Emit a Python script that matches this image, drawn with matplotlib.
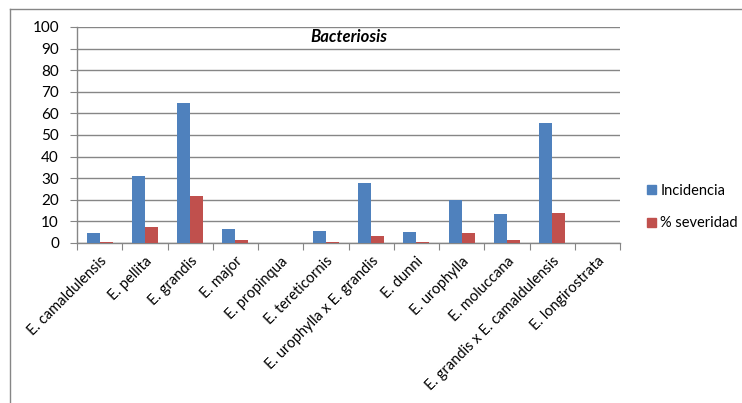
import matplotlib
matplotlib.use("Agg")
import matplotlib.pyplot as plt
from matplotlib.lines import Line2D
from matplotlib.patches import Patch
import numpy as np

plt.rcParams['font.family'] = ['Lato', 'DejaVu Sans']

especies = ["E. camaldulensis", "E. pellita", "E. grandis", "E. major", "E. propinqua",
            "E. tereticornis", "E. urophylla x E. grandis", "E. dunni", "E. urophylla",
            "E. moluccana", "E. grandis x E. camaldulensis", "E. longirostrata"]
incidencia = [4.8, 31.2, 64.8, 6.5, 0.0, 5.4, 27.7, 5.2, 19.8, 13.2, 55.4, 0.0]
severidad = [0.6, 7.4, 21.7, 1.5, 0.0, 0.6, 3.1, 0.6, 4.8, 1.2, 13.7, 0.0]
y_ticks = [0, 10, 20, 30, 40, 50, 60, 70, 80, 90, 100]

azul = "#4F81BD"
rojo = "#C0504D"
gris = "#868686"

W, H = 742, 403
fig = plt.figure(figsize=(W / 100, H / 100), dpi=100)
ax = fig.add_axes([77 / W, 1 - 243 / H, (620 - 77) / W, (243 - 27) / H])

x = np.arange(len(especies))
bw = 1 / 3.5
ax.bar(x - bw / 2, incidencia, width=bw, color=azul, label="Incidencia", zorder=3)
ax.bar(x + bw / 2, severidad, width=bw, color=rojo, label="% severidad", zorder=3)

ax.set_xlim(-0.5, len(especies) - 0.5)
ax.set_ylim(0, 100)
ax.set_yticks(y_ticks)
ax.yaxis.grid(True, color=gris, linewidth=1)
ax.set_axisbelow(True)
for s in ["top", "right"]:
    ax.spines[s].set_visible(False)
for s in ["left", "bottom"]:
    ax.spines[s].set_color(gris)
    ax.spines[s].set_linewidth(1)

ax.tick_params(axis="y", length=5, color=gris, labelsize=11, pad=8, labelcolor="black")
ax.set_xticks(np.arange(len(especies) + 1) - 0.5, minor=False)
ax.set_xticklabels([])
ax.tick_params(axis="x", length=5, color=gris)
ax.set_xticks(x, minor=True)
ax.set_xticklabels(especies, minor=True, rotation=45, ha="right", va="top",
                   rotation_mode="anchor", fontsize=10.5)
ax.tick_params(axis="x", which="minor", length=0, pad=8)

ax.text(0.5, 0.955, "Bacteriosis", transform=ax.transAxes, ha="center", va="center",
        fontsize=12, fontweight="bold", fontstyle="italic")

handles = [Patch(color=azul), Patch(color=rojo)]
fig.legend(handles, ["Incidencia", "% severidad"], loc="center left",
           bbox_to_anchor=(634 / W, 1 - 207 / H), frameon=False, fontsize=10.5,
           handlelength=0.6, handleheight=0.6, handletextpad=0.3, labelspacing=1.3)

# outer frame (left and top edges)
fig.add_artist(Line2D([10 / W, 10 / W], [0, 1 - 9 / H], transform=fig.transFigure,
                      color=gris, linewidth=1))
fig.add_artist(Line2D([10 / W, 1], [1 - 9 / H, 1 - 9 / H], transform=fig.transFigure,
                      color=gris, linewidth=1))

fig.savefig("out.png", dpi=100)
